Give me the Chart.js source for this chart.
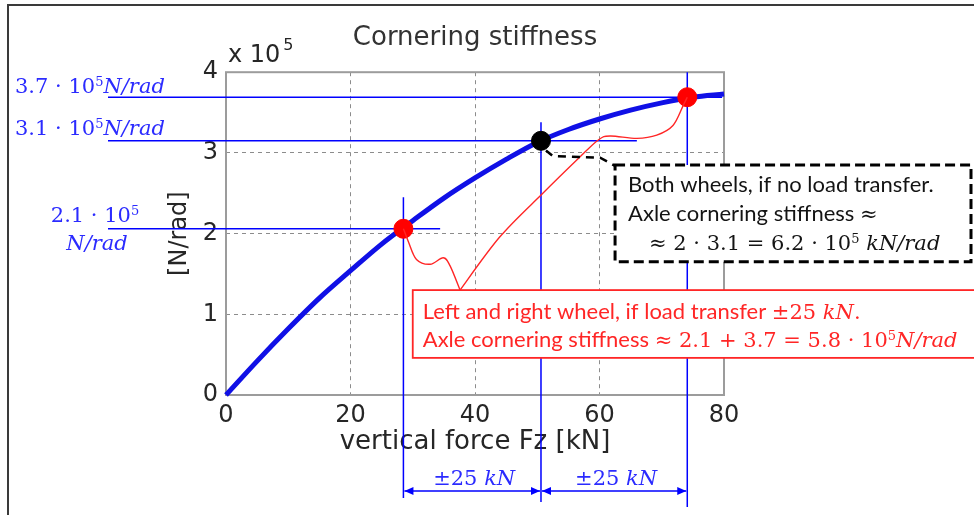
<!DOCTYPE html>
<html>
<head>
<meta charset="utf-8">
<title>Cornering stiffness</title>
<script src="https://cdn.jsdelivr.net/npm/chart.js@4.4.0/dist/chart.umd.min.js"></script>
<style>
  html, body { margin: 0; padding: 0; background: #fff; }
  #wrap { position: relative; width: 974px; height: 515px; }
</style>
</head>
<body>
<div id="wrap"><canvas id="stiffness"></canvas></div>
<script>
// cornering stiffness of one tyre vs vertical load, y in 1e5 N/rad
const fzValues = [0, 5, 10, 15, 20, 25, 30, 35, 40, 45, 50, 55, 60, 65, 70, 75, 80];
const stiffValues = [0, 0.42, 0.82, 1.20, 1.54, 1.87, 2.16, 2.44, 2.69, 2.92, 3.13, 3.29, 3.42, 3.53, 3.62, 3.69, 3.73];

// inner wheel, static load, outer wheel (load transfer +-25 kN)
const wheelFz = [28.5, 50.6, 74.1];
const wheelStiff = [2.06, 3.15, 3.69];
const wheelColors = ["#ff0000", "#000000", "#ff0000"];
const wheelText = ["2.1", "3.1", "3.7"];

const xTicks = [0, 20, 40, 60, 80];
const yTicks = [0, 1, 2, 3, 4];

const BLUE = "#0000ff", MATH_BLUE = "#2b2bff", RED = "#ff2626", INK = "#141414";
const SERIF = '"DejaVu Serif"';

Chart.defaults.font.family = '"DejaVu Sans"';
Chart.defaults.color = "#262626";

function fontFor(kind, size) {
  if (kind === "t") return Math.round(size * 1.07) + "px Lato";
  if (kind === "i") return "italic " + size + "px " + SERIF;
  if (kind === "s") return Math.round(size * 0.62) + "px " + SERIF;
  return size + "px " + SERIF;
}

// text made of pieces: t = slide text, m = math, i = math italic, s = superscript
function drawRich(ctx, parts, x, y, size, align) {
  let w = 0;
  parts.forEach(([t, k]) => { ctx.font = fontFor(k, size); w += ctx.measureText(t).width; });
  let cx = align === "center" ? x - w / 2 : x;
  ctx.textAlign = "left";
  ctx.textBaseline = "alphabetic";
  parts.forEach(([t, k]) => {
    ctx.font = fontFor(k, size);
    ctx.fillText(t, cx, k === "s" ? y - size * 0.32 : y);
    cx += ctx.measureText(t).width;
  });
}

function smoothPath(ctx, pts) {
  ctx.moveTo(pts[0][0], pts[0][1]);
  for (let i = 0; i < pts.length - 1; i++) {
    const p0 = pts[i - 1] || pts[i], p1 = pts[i], p2 = pts[i + 1], p3 = pts[i + 2] || p2;
    ctx.bezierCurveTo(
      p1[0] + (p2[0] - p0[0]) / 6, p1[1] + (p2[1] - p0[1]) / 6,
      p2[0] - (p3[0] - p1[0]) / 6, p2[1] - (p3[1] - p1[1]) / 6,
      p2[0], p2[1]);
  }
}

function arrow(ctx, x1, x2, yy) {
  ctx.beginPath(); ctx.moveTo(x1, yy); ctx.lineTo(x2, yy); ctx.stroke();
  [[x1, 1], [x2, -1]].forEach(([xx, d]) => {
    ctx.beginPath();
    ctx.moveTo(xx, yy);
    ctx.lineTo(xx + 9 * d, yy - 4);
    ctx.lineTo(xx + 9 * d, yy + 4);
    ctx.closePath();
    ctx.fill();
  });
}

const notes = {
  id: "notes",
  beforeDraw(chart) {
    const { ctx, width, height } = chart;
    ctx.save();
    ctx.strokeStyle = "#3a3a3a";
    ctx.lineWidth = 2;
    ctx.beginPath();
    ctx.moveTo(8, height); ctx.lineTo(8, 5); ctx.lineTo(width, 5);
    ctx.stroke();
    ctx.restore();
  },
  beforeDatasetsDraw(chart) {
    const { ctx, chartArea: a, scales: { x, y } } = chart;
    ctx.save();
    ctx.strokeStyle = "#9c9c9c";
    ctx.lineWidth = 2;
    ctx.strokeRect(a.left, a.top, a.right - a.left, a.bottom - a.top);

    // blue construction lines through each wheel point
    const hEnd = [34.4, 66, 79.7], vTop = [2.45, 3.38, 4], vDrop = [103, 107, 112];
    ctx.strokeStyle = BLUE;
    ctx.lineWidth = 1.5;
    wheelFz.forEach((fz, i) => {
      const px = x.getPixelForValue(fz), py = y.getPixelForValue(wheelStiff[i]);
      ctx.beginPath();
      ctx.moveTo(a.left - 118, py); ctx.lineTo(x.getPixelForValue(hEnd[i]), py);
      ctx.moveTo(px, y.getPixelForValue(vTop[i])); ctx.lineTo(px, a.bottom + vDrop[i]);
      ctx.stroke();
    });
    ctx.restore();
  },
  afterDatasetsDraw(chart) {
    const { ctx, width, chartArea: a, scales: { x, y } } = chart;
    const P = (fz, s) => [x.getPixelForValue(fz), y.getPixelForValue(s)];
    ctx.save();

    // red callout lines from the two loaded wheels
    const apex = [37.6, 1.30];
    ctx.strokeStyle = RED;
    ctx.lineWidth = 1.4;
    ctx.beginPath();
    smoothPath(ctx, [[wheelFz[0], wheelStiff[0]], [29.3, 1.90], [30.6, 1.68], [32.8, 1.62],
      [34.9, 1.70], [36.0, 1.60], apex].map(p => P(p[0], p[1])));
    ctx.stroke();
    ctx.beginPath();
    smoothPath(ctx, [apex, [44.0, 1.96], [50.9, 2.50], [56.6, 2.93], [59.8, 3.16], [61.7, 3.21],
      [66.0, 3.18], [69.2, 3.22], [71.8, 3.34], [73.4, 3.58], [wheelFz[2], wheelStiff[2]]].map(p => P(p[0], p[1])));
    ctx.stroke();

    // black dashed callout from the static point
    ctx.strokeStyle = "#000";
    ctx.lineWidth = 2.5;
    ctx.setLineDash([8, 6]);
    ctx.beginPath();
    [[51.4, 3.03], [52.5, 2.96], [60.1, 2.94], [62.5, 2.84]].map(p => P(p[0], p[1]))
      .forEach((p, i) => i ? ctx.lineTo(p[0], p[1]) : ctx.moveTo(p[0], p[1]));
    ctx.stroke();

    // black dashed box
    const [bl, bt] = P(62.5, 2.85), bb = y.getPixelForValue(1.65), br = width - 3;
    ctx.fillStyle = "#fff";
    ctx.fillRect(bl, bt, br - bl, bb - bt);
    ctx.lineWidth = 3;
    ctx.setLineDash([10, 5]);
    ctx.strokeRect(bl, bt, br - bl, bb - bt);
    ctx.setLineDash([]);
    ctx.fillStyle = INK;
    drawRich(ctx, [["Both wheels, if no load transfer.", "t"]], bl + 13, bt + 27, 21);
    drawRich(ctx, [["Axle cornering stiffness ", "t"], ["≈", "m"]], bl + 13, bt + 56, 21);
    drawRich(ctx, [["≈ 2 · 3.1 = 6.2 · 10", "m"], ["5", "s"], [" kN/rad", "i"]], bl + 34, bt + 85, 21);

    // red box
    const [rl, rt] = P(30.0, 1.30), rb = y.getPixelForValue(0.46);
    ctx.fillStyle = "#fff";
    ctx.fillRect(rl, rt, width + 5 - rl, rb - rt);
    ctx.strokeStyle = RED;
    ctx.lineWidth = 1.8;
    ctx.strokeRect(rl, rt, width + 5 - rl, rb - rt);
    ctx.fillStyle = RED;
    drawRich(ctx, [["Left and right wheel, if load transfer ", "t"], ["±25 ", "m"], ["kN", "i"], [".", "m"]], rl + 10, rt + 29, 21);
    drawRich(ctx, [["Axle cornering stiffness ", "t"], ["≈ 2.1 + 3.7 = 5.8 · 10", "m"], ["5", "s"], ["N/rad", "i"]], rl + 10, rt + 57, 21);

    // load transfer arrows under the axis
    const xs = wheelFz.map(v => x.getPixelForValue(v));
    ctx.strokeStyle = BLUE;
    ctx.lineWidth = 1.5;
    for (let i = 0; i < 2; i++) {
      ctx.fillStyle = BLUE;
      arrow(ctx, xs[i] + 1, xs[i + 1] - 1, a.bottom + 96);
      ctx.fillStyle = MATH_BLUE;
      drawRich(ctx, [["±25 ", "m"], ["kN", "i"]], (xs[i] + xs[i + 1]) / 2 + 2, a.bottom + 90, 21, "center");
    }

    // stiffness values at the left
    ctx.fillStyle = MATH_BLUE;
    wheelFz.forEach((fz, i) => {
      const py = y.getPixelForValue(wheelStiff[i]);
      if (i === 0) {
        drawRich(ctx, [[wheelText[i] + " · 10", "m"], ["5", "s"]], a.left - 131, py - 7, 21, "center");
        drawRich(ctx, [["N/rad", "i"]], a.left - 129, py + 21, 21, "center");
      } else {
        drawRich(ctx, [[wheelText[i] + " · 10", "m"], ["5", "s"], ["N/rad", "i"]], a.left - 211, py - (i === 2 ? 4 : 6), 21);
      }
    });

    // axis multiplier
    ctx.fillStyle = "#262626";
    ctx.font = '24px "DejaVu Sans"';
    ctx.fillText("x 10", a.left + 2, a.top - 10);
    const mw = ctx.measureText("x 10").width;
    ctx.font = '16px "DejaVu Sans"';
    ctx.fillText("5", a.left + 5 + mw, a.top - 22);
    ctx.restore();
  }
};

new Chart("stiffness", {
  type: "line",
  data: {
    datasets: [
      {
        data: wheelFz.map((v, i) => ({ x: v, y: wheelStiff[i] })),
        showLine: false,
        pointRadius: 9.5,
        pointBackgroundColor: wheelColors,
        pointBorderColor: wheelColors,
        pointBorderWidth: 1,
        order: 0,
        clip: false,
      },
      {
        data: fzValues.map((v, i) => ({ x: v, y: stiffValues[i] })),
        borderColor: "#1010e6",
        borderWidth: 5,
        pointRadius: 0,
        cubicInterpolationMode: "monotone",
        fill: false,
        order: 1,
        clip: false,
      },
    ],
  },
  options: {
    responsive: true,
    maintainAspectRatio: false,
    animation: false,
    layout: { autoPadding: false, padding: { left: 150, right: 250, top: 0, bottom: 50 } },
    plugins: {
      legend: { display: false },
      tooltip: { enabled: false },
      title: {
        display: true,
        text: "Cornering stiffness",
        fullSize: false,
        color: "#333",
        font: { size: 26, weight: "normal", lineHeight: 1.2 },
        padding: { top: 23, bottom: 18 },
      },
    },
    scales: {
      x: {
        type: "linear",
        min: 0,
        max: 80,
        afterBuildTicks: (s) => { s.ticks = xTicks.map(v => ({ value: v })); },
        afterFit: (s) => { s.height = 70; },
        ticks: { padding: 6, font: { size: 24 }, color: "#262626" },
        grid: { color: "#8c8c8c", lineWidth: 1, drawTicks: false },
        border: { display: false, dash: [4, 4] },
        title: { display: true, text: "vertical force Fz [kN]", font: { size: 26, lineHeight: 1.2 }, padding: { top: 0, bottom: 7 }, color: "#262626" },
      },
      y: {
        min: 0,
        max: 4,
        afterBuildTicks: (s) => { s.ticks = yTicks.map(v => ({ value: v })); },
        afterFit: (s) => { s.width = 76; },
        ticks: { padding: 8, font: { size: 24 }, color: "#262626" },
        grid: { color: "#8c8c8c", lineWidth: 1, drawTicks: false },
        border: { display: false, dash: [4, 4] },
        title: { display: true, text: "[N/rad]", font: { size: 24, lineHeight: 1.2 }, padding: { top: 15.6, bottom: 0 }, color: "#262626" },
      },
    },
  },
  plugins: [notes],
});
</script>
</body>
</html>
